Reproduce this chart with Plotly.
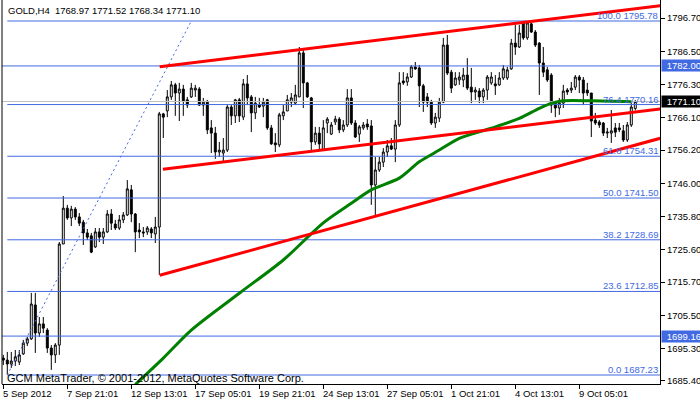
import plotly.graph_objects as go

# ---------------- data ----------------
bar_index = list(range(159))
opens = [1692.4,1691.8,1690.6,1691.5,1691.2,1693.7,1697.0,1698.3,1708.7,1700.1,
         1702.9,1701.0,1695.5,1693.4,1696.4,1727.4,1738.4,1735.4,1738.1,1735.7,
         1734.1,1730.8,1729.9,1726.5,1731.1,1729.5,1731.1,1736.6,1733.5,1732.3,
         1734.8,1736.3,1744.0,1736.6,1731.7,1731.1,1731.1,1732.0,1730.5,1732.6,
         1767.3,1768.2,1772.5,1776.2,1773.7,1774.9,1771.6,1772.5,1774.6,1774.9,
         1770.0,1770.9,1763.0,1761.4,1755.6,1755.3,1756.2,1769.4,1766.7,1771.6,
         1766.3,1776.5,1772.5,1767.6,1770.0,1769.7,1771.6,1763.0,1758.4,1757.8,
         1766.7,1768.2,1770.9,1770.6,1772.5,1786.0,1776.8,1772.2,1758.7,1761.4,
         1756.2,1764.5,1761.1,1764.8,1765.7,1762.4,1763.9,1772.2,1764.5,1761.1,
         1763.0,1764.2,1763.6,1745.5,1750.1,1752.5,1755.6,1757.5,1756.5,1763.9,
         1777.4,1777.1,1778.6,1781.7,1781.4,1775.9,1772.5,1770.9,1764.5,1766.0,
         1770.9,1788.4,1780.1,1776.2,1777.7,1777.7,1779.2,1775.5,1774.0,1774.3,
         1772.5,1774.6,1776.8,1776.5,1776.2,1778.3,1778.3,1781.1,1789.0,1787.8,
         1795.2,1790.6,1794.9,1792.4,1789.0,1782.9,1780.8,1779.2,1770.6,1769.1,
         1770.6,1774.6,1774.6,1775.5,1778.6,1777.7,1774.6,1773.7,1765.4,1764.8,
         1764.5,1761.4,1761.4,1763.0,1763.0,1762.1,1759.3,1763.9,1768.97]
highs = [1693.4,1694.3,1694.3,1694.9,1694.9,1698.0,1698.9,1712.4,1712.4,1705.0,
         1705.0,1701.6,1696.4,1697.0,1728.0,1742.1,1739.4,1739.1,1738.7,1736.9,
         1734.8,1732.0,1730.8,1732.3,1732.3,1732.3,1737.8,1738.1,1734.8,1736.3,
         1737.2,1747.0,1745.5,1736.9,1733.8,1732.6,1732.9,1732.6,1735.7,1767.9,
         1767.6,1774.6,1777.4,1776.8,1776.8,1776.2,1772.5,1776.8,1776.2,1775.5,
         1772.2,1771.6,1765.4,1763.3,1758.7,1759.9,1770.0,1770.0,1771.9,1772.2,
         1778.0,1779.2,1773.1,1772.5,1772.2,1772.2,1771.9,1763.9,1761.4,1767.6,
         1770.0,1773.1,1773.7,1776.2,1787.8,1786.9,1777.1,1772.5,1763.3,1763.3,
         1765.4,1766.3,1764.8,1766.7,1766.3,1765.4,1774.9,1774.9,1765.4,1763.9,
         1764.8,1765.7,1765.4,1754.1,1754.1,1756.8,1759.3,1759.9,1765.4,1780.1,
         1780.1,1779.8,1782.3,1783.2,1782.3,1776.5,1773.7,1771.6,1767.6,1772.2,
         1790.6,1791.5,1780.8,1780.1,1780.1,1781.4,1784.4,1781.4,1775.5,1775.2,
         1775.2,1779.2,1780.1,1779.2,1780.1,1782.3,1781.7,1790.3,1794.6,1794.6,
         1795.78,1795.5,1795.2,1793.0,1789.3,1787.8,1781.7,1779.8,1770.9,1772.2,
         1776.2,1775.2,1777.1,1779.2,1779.2,1778.6,1776.8,1773.7,1767.6,1765.4,
         1764.8,1763.0,1768.5,1764.5,1764.5,1763.9,1764.8,1770.6,1771.52]
lows = [1690.3,1687.23,1689.4,1690.0,1690.3,1693.4,1696.1,1698.0,1694.0,1698.9,
        1700.1,1694.0,1688.8,1690.9,1693.4,1727.4,1734.8,1732.9,1734.8,1732.9,
        1727.1,1728.6,1724.6,1726.2,1728.0,1727.4,1730.8,1731.7,1731.7,1731.7,
        1733.8,1736.0,1734.1,1724.9,1729.2,1729.5,1730.2,1729.2,1727.7,1717.9,
        1759.9,1766.3,1771.6,1766.7,1765.1,1766.7,1769.1,1772.2,1772.5,1769.7,
        1766.7,1761.1,1755.3,1753.5,1754.1,1752.5,1755.6,1763.9,1764.5,1764.8,
        1765.4,1770.0,1761.7,1765.7,1769.1,1766.3,1762.4,1757.8,1755.6,1757.1,
        1765.4,1768.2,1769.4,1770.0,1772.5,1769.1,1772.2,1755.6,1757.8,1756.2,
        1755.9,1761.4,1760.8,1763.9,1761.4,1761.7,1763.3,1763.9,1759.9,1758.7,
        1762.4,1762.4,1739.4,1735.7,1749.5,1751.0,1754.1,1756.2,1752.5,1763.3,
        1776.2,1775.9,1778.3,1780.8,1769.4,1767.9,1769.4,1763.9,1763.0,1764.8,
        1770.6,1779.2,1773.7,1775.9,1776.2,1775.5,1774.6,1770.6,1771.6,1770.6,
        1770.6,1771.6,1776.2,1773.1,1775.9,1777.7,1777.7,1780.8,1785.4,1787.5,
        1790.0,1790.0,1792.1,1787.8,1773.1,1778.6,1777.1,1767.6,1766.3,1767.0,
        1769.1,1773.1,1773.7,1774.6,1773.7,1770.0,1772.8,1760.2,1763.9,1763.0,
        1760.5,1759.9,1758.4,1760.2,1761.7,1758.7,1758.7,1763.3,1768.34]
closes = [1691.8,1690.6,1691.5,1692.8,1693.4,1697.0,1698.3,1709.0,1700.1,1702.9,
          1701.6,1695.5,1693.4,1696.4,1727.4,1738.4,1735.4,1738.1,1735.7,1733.8,
          1730.8,1729.5,1724.9,1731.1,1729.5,1731.1,1736.6,1733.8,1732.3,1734.8,
          1736.3,1744.3,1736.6,1731.1,1731.1,1730.8,1732.3,1730.8,1732.6,1767.3,
          1766.3,1772.5,1776.2,1773.7,1774.9,1771.3,1770.0,1775.2,1775.2,1770.0,
          1770.9,1762.4,1761.4,1755.6,1756.2,1756.2,1769.4,1766.7,1771.6,1766.7,
          1776.5,1772.2,1767.6,1770.6,1769.4,1770.9,1763.0,1758.1,1757.8,1767.0,
          1767.9,1771.6,1772.2,1773.1,1786.0,1776.8,1772.5,1758.7,1761.4,1758.1,
          1763.0,1765.7,1763.9,1765.7,1762.4,1763.9,1772.2,1764.5,1760.2,1763.3,
          1763.9,1763.3,1745.5,1750.1,1752.5,1755.6,1757.5,1756.5,1763.9,1776.8,
          1776.8,1778.6,1781.7,1781.1,1775.9,1770.9,1770.9,1764.5,1766.3,1770.9,
          1788.4,1779.8,1775.2,1778.3,1778.6,1779.2,1775.2,1774.0,1774.6,1772.5,
          1774.6,1778.6,1778.6,1775.9,1778.3,1781.1,1780.8,1789.0,1787.8,1792.1,
          1790.6,1795.2,1792.4,1788.4,1782.9,1780.1,1777.7,1770.0,1769.1,1770.6,
          1774.3,1774.0,1775.2,1778.6,1777.7,1773.7,1773.7,1765.1,1764.5,1763.9,
          1761.4,1761.7,1762.1,1761.7,1762.4,1759.3,1763.9,1769.4,1771.10]

# moving average (green) read at selected bars
ma_bars = [33, 40, 47, 59, 70, 80, 87, 92, 99, 104, 109, 114, 122, 129, 134, 137, 140, 147, 157]
ma_vals = [1684.3, 1692.4, 1701.0, 1712.3, 1722.5, 1733.9, 1739.9, 1744.0, 1747.6, 1752.6,
           1756.2, 1759.8, 1762.9, 1765.9, 1769.0, 1770.5, 1771.3, 1771.3, 1771.0]

# red trend lines: (bars, prices)
trend_upper = ([39.1, 164.2], [1781.77, 1800.47])
trend_mid = ([39.9, 164.2], [1750.30, 1768.79])
trend_low = ([39.1, 164.2], [1717.80, 1759.81])

# Fibonacci retracement
fib_anchor_bars = [1, 47]
fib_anchor_prices = [1687.23, 1795.78]
fib_levels = ["0.0", "23.6", "38.2", "50.0", "61.8", "76.4", "100.0"]
fib_prices = [1687.23, 1712.85, 1728.69, 1741.50, 1754.31, 1770.16, 1795.78]

hlines = [1782.00, 1699.16]
bid = 1771.10

ytick_vals = [1796.70, 1786.50, 1776.30, 1766.10, 1756.20, 1746.00, 1735.80, 1725.60,
              1715.70, 1705.50, 1695.30, 1685.40]
xtick_bars = [0, 16, 32, 48, 64, 80, 96, 112, 128, 144]
xtick_labels = ["5 Sep 2012", "7 Sep 21:01", "12 Sep 13:01", "17 Sep 05:01", "19 Sep 21:01",
                "24 Sep 13:01", "27 Sep 05:01", "1 Oct 21:01", "4 Oct 13:01", "9 Oct 05:01"]

header = "GOLD,H4  1768.97 1771.52 1768.34 1771.10"
copyright_text = "GCM MetaTrader, © 2001-2012, MetaQuotes Software Corp."

# ---------------- figure ----------------
FONT = "Liberation Sans, Arial, sans-serif"
BLUE = "#4169E1"
XR = [-0.325, 164.175]

fig = go.Figure()

fig.add_trace(go.Scatter(x=XR, y=[bid, bid], mode="lines",
                         line=dict(color="#c0c0c0", width=1), hoverinfo="skip", showlegend=False))
for h in hlines:
    fig.add_trace(go.Scatter(x=XR, y=[h, h], mode="lines",
                             line=dict(color=BLUE, width=1), hoverinfo="skip", showlegend=False))
for p in fib_prices:
    fig.add_trace(go.Scatter(x=[fib_anchor_bars[0], XR[1]], y=[p, p], mode="lines",
                             line=dict(color=BLUE, width=1), hoverinfo="skip", showlegend=False))
fig.add_trace(go.Scatter(x=fib_anchor_bars, y=fib_anchor_prices, mode="lines",
                         line=dict(color=BLUE, width=1, dash="2px,3px"),
                         hoverinfo="skip", showlegend=False))

fig.add_trace(go.Candlestick(
    x=bar_index, open=opens, high=highs, low=lows, close=closes,
    increasing=dict(line=dict(color="black", width=1), fillcolor="white"),
    decreasing=dict(line=dict(color="black", width=1), fillcolor="black"),
    whiskerwidth=0, showlegend=False, hoverinfo="skip"))

fig.add_trace(go.Scatter(x=ma_bars, y=ma_vals, mode="lines",
                         line=dict(color="#008000", width=3, shape="spline", smoothing=0.8),
                         hoverinfo="skip", showlegend=False))
for tx, ty in (trend_upper, trend_mid, trend_low):
    fig.add_trace(go.Scatter(x=tx, y=ty, mode="lines",
                             line=dict(color="#ff0000", width=3), hoverinfo="skip", showlegend=False))

annotations = []
for lv, p in zip(fib_levels, fib_prices):
    annotations.append(dict(x=1, xref="paper", y=p, yref="y", xanchor="right", yanchor="middle",
                            yshift=5.5, xshift=-1, showarrow=False,
                            text=f"{lv} {p:.2f}", font=dict(family=FONT, size=9.5, color=BLUE),
                            borderpad=0))
for b, t in zip(xtick_bars, xtick_labels):
    annotations.append(dict(x=b, xref="x", y=0, yref="paper", xanchor="left", yanchor="top",
                            yshift=-3, xshift=-1, showarrow=False, text=t,
                            font=dict(family=FONT, size=9.5, color="black"), borderpad=0))
for p, bg in ((hlines[0], BLUE), (bid, "black"), (hlines[1], BLUE)):
    annotations.append(dict(x=1, xref="paper", y=p, yref="y", xanchor="left", yanchor="middle",
                            xshift=1, showarrow=False, text=f"{p:.2f}", bgcolor=bg,
                            width=39, height=11, align="right", borderpad=0,
                            font=dict(family=FONT, size=9.5, color="white")))
annotations.append(dict(x=0, xref="paper", y=1, yref="paper", xanchor="left", yanchor="middle",
                        xshift=5, yshift=-10.5, showarrow=False, text=header,
                        font=dict(family=FONT, size=9.5, color="black"), borderpad=0))
annotations.append(dict(x=0, xref="paper", y=0, yref="paper", xanchor="left", yanchor="middle",
                        xshift=4, yshift=6.5, showarrow=False, text=copyright_text,
                        font=dict(family=FONT, size=11, color="black"), borderpad=0))

fig.update_layout(
    width=700, height=402,
    margin=dict(l=2, r=40, t=0, b=18, pad=0),
    paper_bgcolor="white", plot_bgcolor="white",
    showlegend=False,
    annotations=annotations,
    shapes=[dict(type="line", xref="paper", yref="paper", x0=0, x1=0, y0=0, y1=1,
                 line=dict(color="black", width=1))],
    xaxis=dict(range=XR, showgrid=False, zeroline=False, showline=True, linecolor="black",
               linewidth=1, ticks="outside", ticklen=4, tickcolor="black",
               tickvals=xtick_bars, showticklabels=False, rangeslider=dict(visible=False),
               fixedrange=True),
    yaxis=dict(range=[1684.47, 1802.22], side="right", showgrid=False, zeroline=False,
               showline=True, linecolor="black", linewidth=1, ticks="outside", ticklen=4,
               tickcolor="black", tickvals=ytick_vals, ticktext=[f"{v:.2f}" for v in ytick_vals],
               tickfont=dict(family=FONT, size=9.5, color="black"), fixedrange=True),
)

fig.write_html("out.html", config={"displayModeBar": False},
               post_script="document.body.style.margin='0';document.body.style.overflow='hidden';")
